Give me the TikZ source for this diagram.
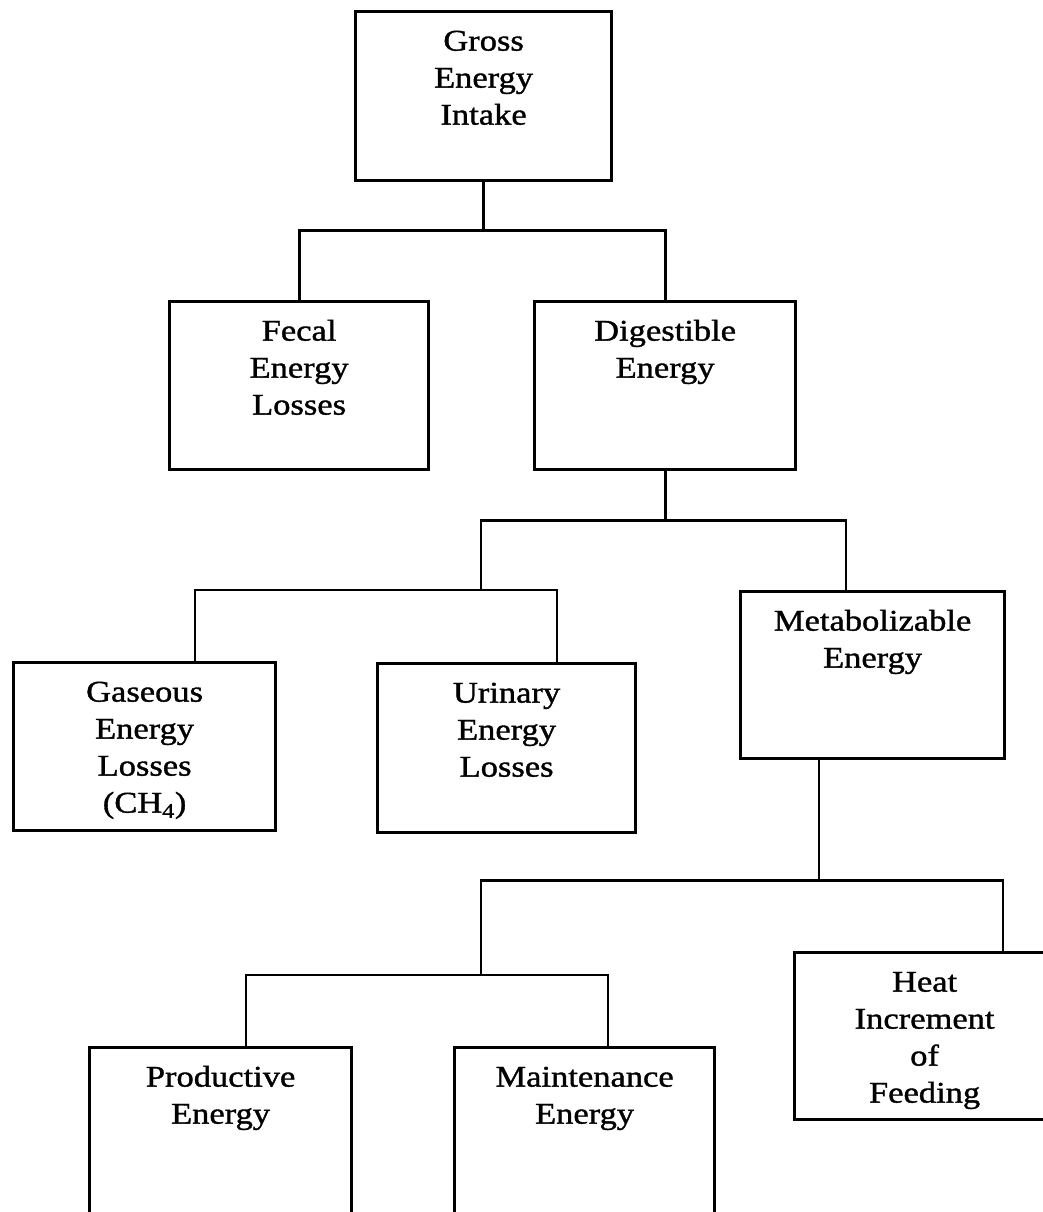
\documentclass[tikz,border=0pt]{standalone}
\usepackage{fontspec}
\setmainfont{Liberation Serif}[FakeStretch=1.15, FakeBold=1.2]
\usetikzlibrary{positioning}
\tikzstyle{stage} = [rectangle, draw=black, line width=3.2pt, inner sep=0pt, anchor=north west, font=\fontsize{30pt}{37pt}\selectfont]
\tikzstyle{link} = [line width=2.8pt]
\newcommand{\stagetext}[3]{\parbox[t][#2][t]{#1}{\centering\rule{0pt}{39pt}#3}}

\begin{document}
\begin{tikzpicture}[x=1pt, y=-1pt]
\useasboundingbox (0,0) rectangle (1043,1212);

 \node (gross) [stage] at (354,10) {\stagetext{256pt}{169pt}{Gross\\Energy\\Intake}};
 \node (fecal) [stage] at (168,300) {\stagetext{259pt}{168pt}{Fecal\\Energy\\Losses}};
 \node (digest) [stage] at (533,300) {\stagetext{261pt}{168pt}{Digestible\\Energy}};
 \node (gaseous) [stage] at (12,661) {\stagetext{262pt}{168pt}{Gaseous\\Energy\\Losses\\(CH\textsubscript{4})}};
 \node (urinary) [stage] at (376,662) {\stagetext{258pt}{169pt}{Urinary\\Energy\\Losses}};
 \node (metab) [stage] at (739,590) {\stagetext{264pt}{167pt}{Metabolizable\\Energy}};
 \node (heat) [stage] at (793,951) {\stagetext{260pt}{167pt}{Heat\\Increment\\of\\Feeding}};
 \node (prod) [stage] at (88,1046) {\stagetext{262pt}{166pt}{Productive\\Energy}};
 \node (maint) [stage] at (453,1046) {\stagetext{260pt}{166pt}{Maintenance\\Energy}};

 % first split
 \draw[link] (gross.south) -- ++(0,48) coordinate (split1);
 \draw[link] (fecal.north) |- (split1) -| (digest.north);

 % digestible energy split
 \draw[link] (digest.south) -- ++(0,49) coordinate (split2);
 \coordinate (split3) at (481,590);
 \draw[link] ([xshift=107pt]metab.north west) |- (split3 |- split2) -- (split3);
 \draw[link] ([xshift=183pt]gaseous.north west) |- (split3) -| ([xshift=181pt]urinary.north west);

 % metabolizable energy split
 \draw[link] ([xshift=80pt]metab.south west) -- ++(0,120) coordinate (split4);
 \coordinate (split5) at (481,975);
 \draw[link] ([xshift=210pt]heat.north west) |- (split5 |- split4) -- (split5);
 \draw[link] ([xshift=158pt]prod.north west) |- (split5) -| ([xshift=155pt]maint.north west);
\end{tikzpicture}
\end{document}
